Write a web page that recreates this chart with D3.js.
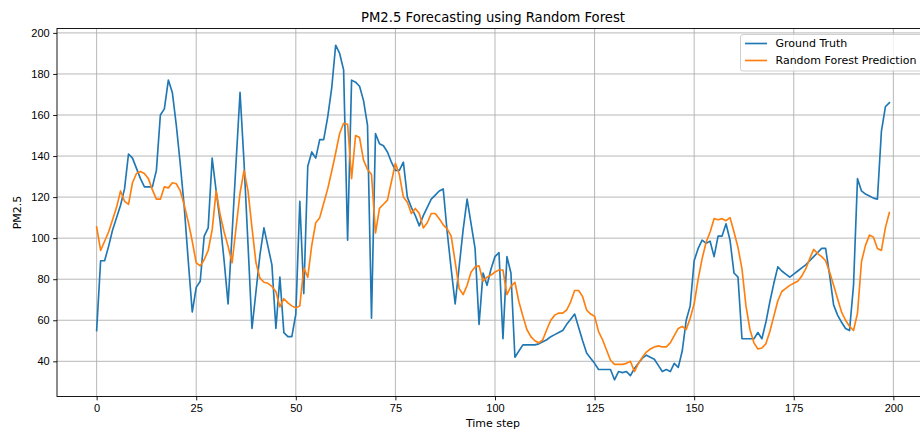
<!DOCTYPE html>
<html>
<head>
<meta charset="utf-8">
<script src="https://cdn.jsdelivr.net/npm/d3@7"></script>
<style>
  body { margin: 0; background: #fff; }
  svg { display: block; font-family: "DejaVu Sans", sans-serif; }
  .axis path, .axis line { stroke: #000; stroke-width: 0.9; }
  .axis text { font-size: 11px; fill: #000; }
  .grid line { stroke: #b0b0b0; stroke-width: 0.9; }
</style>
</head>
<body>
<div id="chart"></div>
<script>

// values
var groundTruth = [
  55, 89, 89, 96, 104, 110, 116, 124, 141, 139,
  134, 129, 125, 125, 125, 133, 160, 163, 177, 171,
  155, 136, 115, 89, 64, 76, 79, 101, 105, 139,
  123, 108, 89, 68, 102, 137, 171, 137, 97, 56,
  74, 92, 105, 96, 87, 56, 81, 54, 52, 52,
  63, 118, 73, 135, 142, 139, 148, 148, 159, 173,
  194, 190, 182, 99, 177, 176, 174, 167, 155, 61,
  151, 146, 145, 142, 137, 133, 133, 137, 120, 115,
  111, 106, 111, 115, 119, 121, 123, 124, 103, 85,
  68, 86, 104, 119, 107, 95, 58, 83, 77, 85,
  91, 93, 51, 91, 83, 42, 45, 48, 48, 48,
  48, 48.5, 49.5, 50.5, 52, 53, 54, 55, 58, 60.5,
  63, 56.5, 50, 44, 41.5, 39, 36, 36, 36, 36,
  31, 35, 34.5, 35, 33, 36.5, 39, 41.5, 43, 42,
  41, 38, 35, 36, 35, 39, 37, 45, 60, 67,
  89, 95, 99, 97.5, 98.5, 91, 101, 101, 107, 99,
  83, 81, 51, 51, 51, 51, 54, 51, 59, 69,
  78, 86, 84, 82.5, 81, 82.5, 84, 85.5, 87, 89,
  91, 93, 95, 95, 82, 67.5, 62.5, 59, 56, 55,
  77, 129, 123, 121.5, 120.5, 119.5, 119, 152, 164, 166
];

var rfPrediction = [
  105.5, 94, 98.5, 103, 109, 115, 123, 118, 116.5, 127,
  131.5, 132.5, 131.5, 129, 123.5, 119, 119, 125, 124.5, 127,
  126.5, 123, 116, 108, 98.5, 88, 86.5, 89.5, 94, 104,
  123, 111.5, 103, 96, 88, 105, 122, 133, 123, 105,
  88, 80.5, 78.5, 78, 76.5, 74, 66.5, 70.5, 68.5, 67,
  66, 67, 85.5, 81, 96.5, 107.5, 110, 117, 124, 132.5,
  141.5, 151, 156, 155.5, 129, 150, 149, 138, 133.5, 131,
  102.5, 114.5, 116.5, 118.5, 127.5, 136.5, 131, 120, 117.5, 112,
  114.5, 112, 105, 107.5, 112, 112, 109.5, 106.5, 104.5, 101,
  88.5, 75.5, 72.5, 77, 83.5, 86, 86.5, 79, 81, 82,
  83.5, 84.5, 84.5, 72.5, 76.5, 78.5, 69, 62, 55.5, 52,
  50, 49, 50.5, 55.5, 60, 62.5, 63.5, 63.5, 65, 69,
  74.5, 74.5, 71.5, 65, 63, 62, 54.5, 50.5, 45.5, 40.5,
  38.5, 38.5, 38.5, 39, 40, 35, 39, 42, 44.5, 46,
  47, 47.5, 47, 47, 49, 52.5, 56, 57, 55.5, 61,
  68, 80, 90, 98, 103, 109.5, 109, 109.5, 108.5, 110,
  103, 95.5, 85, 67, 55.5, 49, 46, 46.5, 48.5, 54.5,
  62, 69.5, 74, 75.5, 77, 78, 79, 81.5, 85, 90,
  94.5, 92.5, 91, 89, 83.5, 77, 70.5, 64, 60, 57,
  55, 63.5, 88.5, 96.5, 101.5, 100.5, 95, 94, 105, 112.5
];

var timeSteps = d3.range(groundTruth.length);
var xTicks = [0, 25, 50, 75, 100, 125, 150, 175, 200];
var yTicks = [40, 60, 80, 100, 120, 140, 160, 180, 200];
var seriesNames = ["Ground Truth", "Random Forest Prediction"];

window.onload = function(){
  makeForecastChart()
};

function makeForecastChart(){
  var outerWidth = 920,
      outerHeight = 430,
      margin = {top: 28.5, left: 57, right: -9, bottom: 33.5},
      width = outerWidth - margin.left - margin.right,
      height = outerHeight - margin.top - margin.bottom;

  var colors = ["#1f77b4", "#ff7f0e"];

  // matplotlib style 5% padding on both axes
  var n = timeSteps.length - 1;
  var x = d3.scaleLinear()
      .domain([-0.05 * n, n * 1.05])
      .range([0, width]);

  var all = groundTruth.concat(rfPrediction),
      lo = d3.min(all), hi = d3.max(all), pad = (hi - lo) * 0.05;
  var y = d3.scaleLinear()
      .domain([lo - pad, hi + pad])
      .range([height, 0]);

  var svg = d3.select("#chart").append("svg")
      .attr("width", outerWidth)
      .attr("height", outerHeight);

  var g = svg.append("g")
      .attr("transform", "translate(" + margin.left + "," + margin.top + ")");

  // grid
  g.append("g")
      .attr("class", "grid")
      .selectAll("line.v")
      .data(xTicks)
    .enter().append("line")
      .attr("x1", function(d){ return x(d); })
      .attr("x2", function(d){ return x(d); })
      .attr("y1", 0)
      .attr("y2", height);

  g.append("g")
      .attr("class", "grid")
      .selectAll("line.h")
      .data(yTicks)
    .enter().append("line")
      .attr("x1", 0)
      .attr("x2", width)
      .attr("y1", function(d){ return y(d); })
      .attr("y2", function(d){ return y(d); });

  var line = d3.line()
      .x(function(d, i){ return x(timeSteps[i]); })
      .y(function(d){ return y(d); });

  [groundTruth, rfPrediction].forEach(function(series, k){
    g.append("path")
        .datum(series)
        .attr("fill", "none")
        .attr("stroke", colors[k])
        .attr("stroke-width", 1.65)
        .attr("stroke-linejoin", "round")
        .attr("stroke-linecap", "square")
        .attr("d", line);
  });

  // frame
  g.append("rect")
      .attr("width", width)
      .attr("height", height)
      .attr("fill", "none")
      .attr("stroke", "#000")
      .attr("stroke-width", 0.9);

  var xAxis = d3.axisBottom(x)
      .tickValues(xTicks)
      .tickSize(3.85)
      .tickPadding(3.5)
      .tickFormat(d3.format("d"));

  var yAxis = d3.axisLeft(y)
      .tickValues(yTicks)
      .tickSize(3.85)
      .tickPadding(3.5)
      .tickFormat(d3.format("d"));

  g.append("g")
      .attr("class", "x axis")
      .attr("transform", "translate(0," + height + ")")
      .call(xAxis)
      .call(function(a){ a.select(".domain").remove(); });

  g.append("g")
      .attr("class", "y axis")
      .call(yAxis)
      .call(function(a){ a.select(".domain").remove(); });

  // labels
  svg.append("text")
      .attr("x", margin.left + width / 2)
      .attr("y", 22)
      .attr("text-anchor", "middle")
      .style("font-size", "13.2px")
      .text("PM2.5 Forecasting using Random Forest");

  svg.append("text")
      .attr("x", margin.left + width / 2)
      .attr("y", 427)
      .attr("text-anchor", "middle")
      .style("font-size", "11px")
      .text("Time step");

  svg.append("text")
      .attr("transform", "translate(21," + (margin.top + height / 2) + ") rotate(-90)")
      .attr("text-anchor", "middle")
      .style("font-size", "11px")
      .text("PM2.5");

  // legend
  var legend = svg.append("g")
      .attr("transform", "translate(740.5,34.5)");

  legend.append("rect")
      .attr("width", 183)
      .attr("height", 36.5)
      .attr("rx", 2.5)
      .attr("fill", "#fff")
      .attr("fill-opacity", 0.8)
      .attr("stroke", "#cccccc")
      .attr("stroke-width", 0.9);

  var item = legend.selectAll("g.item")
      .data(seriesNames)
    .enter().append("g")
      .attr("class", "item")
      .attr("transform", function(d, i){ return "translate(0," + (9 + i * 17) + ")"; });

  item.append("line")
      .attr("x1", 4.5)
      .attr("x2", 26.5)
      .attr("stroke", function(d, i){ return colors[i]; })
      .attr("stroke-width", 1.65);

  item.append("text")
      .attr("x", 35)
      .attr("dy", "0.36em")
      .style("font-size", "11px")
      .text(function(d){ return d; });
};

</script>
</body>
</html>
